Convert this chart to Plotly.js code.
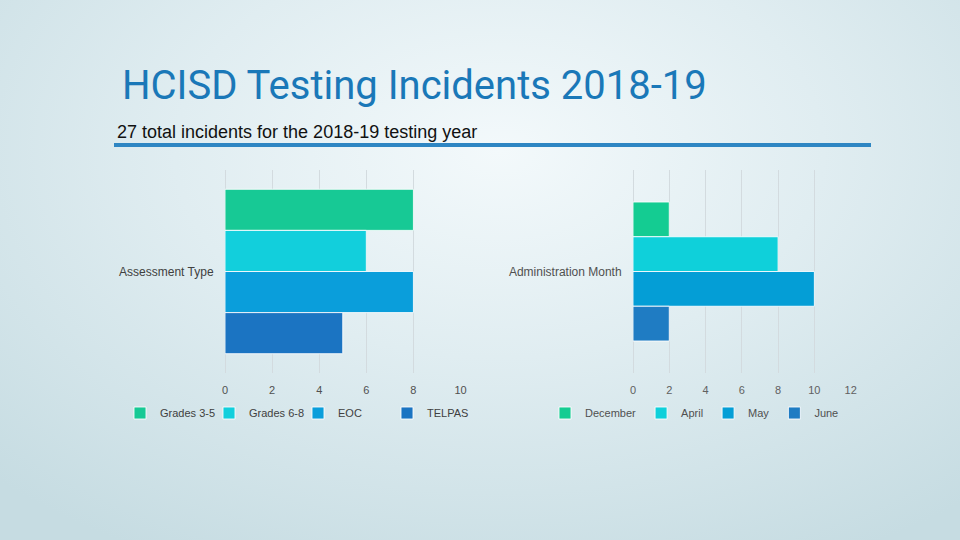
<!DOCTYPE html>
<html>
<head>
<meta charset="utf-8">
<script src="https://cdn.plot.ly/plotly-3.0.1.min.js"></script>
<style>
  html, body { margin:0; padding:0; width:960px; height:540px; overflow:hidden; }
  body { background: radial-gradient(ellipse 75% 85% at 52% 28%, #f3f9fb 0%, #e0edf1 45%, #c6dce2 100%); }
  #chart { width:960px; height:540px; }
</style>
</head>
<body>
<div id="chart"></div>
<script>
// ---- data ----
const assessmentCategory = ['Assessment Type'];
const assessmentNames = ['Grades 3-5', 'Grades 6-8', 'EOC', 'TELPAS'];
const assessmentCounts = [8, 6, 8, 5];

const monthCategory = ['Administration Month'];
const monthNames = ['December', 'April', 'May', 'June'];
const monthCounts = [2, 8, 10, 2];

const leftTicks = [0, 2, 4, 6, 8, 10];
const rightTicks = [0, 2, 4, 6, 8, 10, 12];

const titleText = 'HCISD Testing Incidents 2018-19';
const subtitleText = '27 total incidents for the 2018-19 testing year';

// ---- styles ----
const leftColors = ['#17c995', '#12cfdc', '#0a9edb', '#1b74c2'];
const rightColors = ['#14cc92', '#0fd0da', '#049ed6', '#1f7cc3'];

const traces = [];
assessmentNames.forEach((n, i) => {
  traces.push({
    type: 'bar', orientation: 'h', name: n,
    y: assessmentCategory, x: [assessmentCounts[i]],
    xaxis: 'x', yaxis: 'y', legend: 'legend',
    marker: { color: leftColors[i], line: { color: 'rgba(255,255,255,0.85)', width: 1 } },
    hoverinfo: 'skip'
  });
});
monthNames.forEach((n, i) => {
  traces.push({
    type: 'bar', orientation: 'h', name: n,
    y: monthCategory, x: [monthCounts[i]],
    xaxis: 'x2', yaxis: 'y2', legend: 'legend2',
    marker: { color: rightColors[i], line: { color: 'rgba(255,255,255,0.85)', width: 1 } },
    hoverinfo: 'skip'
  });
});

const gridColor = '#d3dbdf';
const tickFont = { family: 'Liberation Sans, Arial, sans-serif', size: 11, color: '#505050' };

const layout = {
  width: 960, height: 540,
  margin: { l: 0, r: 0, t: 0, b: 0 },
  paper_bgcolor: 'rgba(0,0,0,0)',
  plot_bgcolor: 'rgba(0,0,0,0)',
  barmode: 'group',
  bargap: 0.19,
  bargroupgap: 0,
  showlegend: true,
  font: { family: 'Liberation Sans, Arial, sans-serif', color: '#404040' },
  xaxis: {
    domain: [225/960, 461/960], range: [0, 10.02], tickvals: leftTicks,
    showgrid: true, gridcolor: gridColor, zeroline: true, zerolinecolor: gridColor,
    showline: false, ticks: 'outside', ticklen: 7, tickcolor: 'rgba(0,0,0,0)',
    tickfont: tickFont, anchor: 'y', fixedrange: true
  },
  yaxis: {
    domain: [1 - 373/540, 1 - 170/540], range: [0.5, -0.5],
    showgrid: false, zeroline: false, showline: false,
    ticks: 'outside', ticklen: 8, tickcolor: 'rgba(0,0,0,0)',
    tickfont: { family: 'Liberation Sans, Arial, sans-serif', size: 12, color: '#404040' },
    anchor: 'x', fixedrange: true
  },
  xaxis2: {
    domain: [633/960, 851/960], range: [0, 12.02], tickvals: rightTicks,
    showgrid: true, gridcolor: gridColor, zeroline: true, zerolinecolor: gridColor,
    showline: false, ticks: 'outside', ticklen: 7, tickcolor: 'rgba(0,0,0,0)',
    tickfont: { family: 'Liberation Sans, Arial, sans-serif', size: 11, color: '#606060' },
    anchor: 'y2', fixedrange: true
  },
  yaxis2: {
    domain: [1 - 373/540, 1 - 170/540], range: [0.5915, -0.5915],
    showgrid: false, zeroline: false, showline: false,
    ticks: 'outside', ticklen: 8, tickcolor: 'rgba(0,0,0,0)',
    tickfont: { family: 'Liberation Sans, Arial, sans-serif', size: 12, color: '#505050' },
    anchor: 'x2', fixedrange: true
  },
  legend: {
    orientation: 'h', x: 120/960, xanchor: 'left', y: 1 - 413/540, yanchor: 'middle',
    bgcolor: 'rgba(0,0,0,0)', font: { size: 11, color: '#404040' },
    itemwidth: 30, traceorder: 'normal', entrywidth: 44
  },
  legend2: {
    orientation: 'h', x: 545/960, xanchor: 'left', y: 1 - 413/540, yanchor: 'middle',
    bgcolor: 'rgba(0,0,0,0)', font: { size: 11, color: '#505050' },
    itemwidth: 30, traceorder: 'normal', entrywidth: 0
  },
  shapes: [
    { type: 'line', xref: 'paper', yref: 'paper', x0: 114/960, x1: 871/960, y0: 1 - 145/540, y1: 1 - 145/540,
      line: { color: '#2e86c3', width: 4 } }
  ],
  annotations: [
    { text: titleText, xref: 'paper', yref: 'paper', x: 120/960, y: 1 - 86/540, xanchor: 'left', yanchor: 'middle',
      showarrow: false, font: { family: 'Roboto, sans-serif', size: 40, color: '#1a78b8' } },
    { text: subtitleText, xref: 'paper', yref: 'paper', x: 115/960, y: 1 - 132/540, xanchor: 'left', yanchor: 'middle',
      showarrow: false, font: { family: 'Liberation Sans, Arial, sans-serif', size: 18, color: '#111111' } }
  ]
};

Plotly.newPlot('chart', traces, layout, { staticPlot: true, displayModeBar: false });
</script>
</body>
</html>
